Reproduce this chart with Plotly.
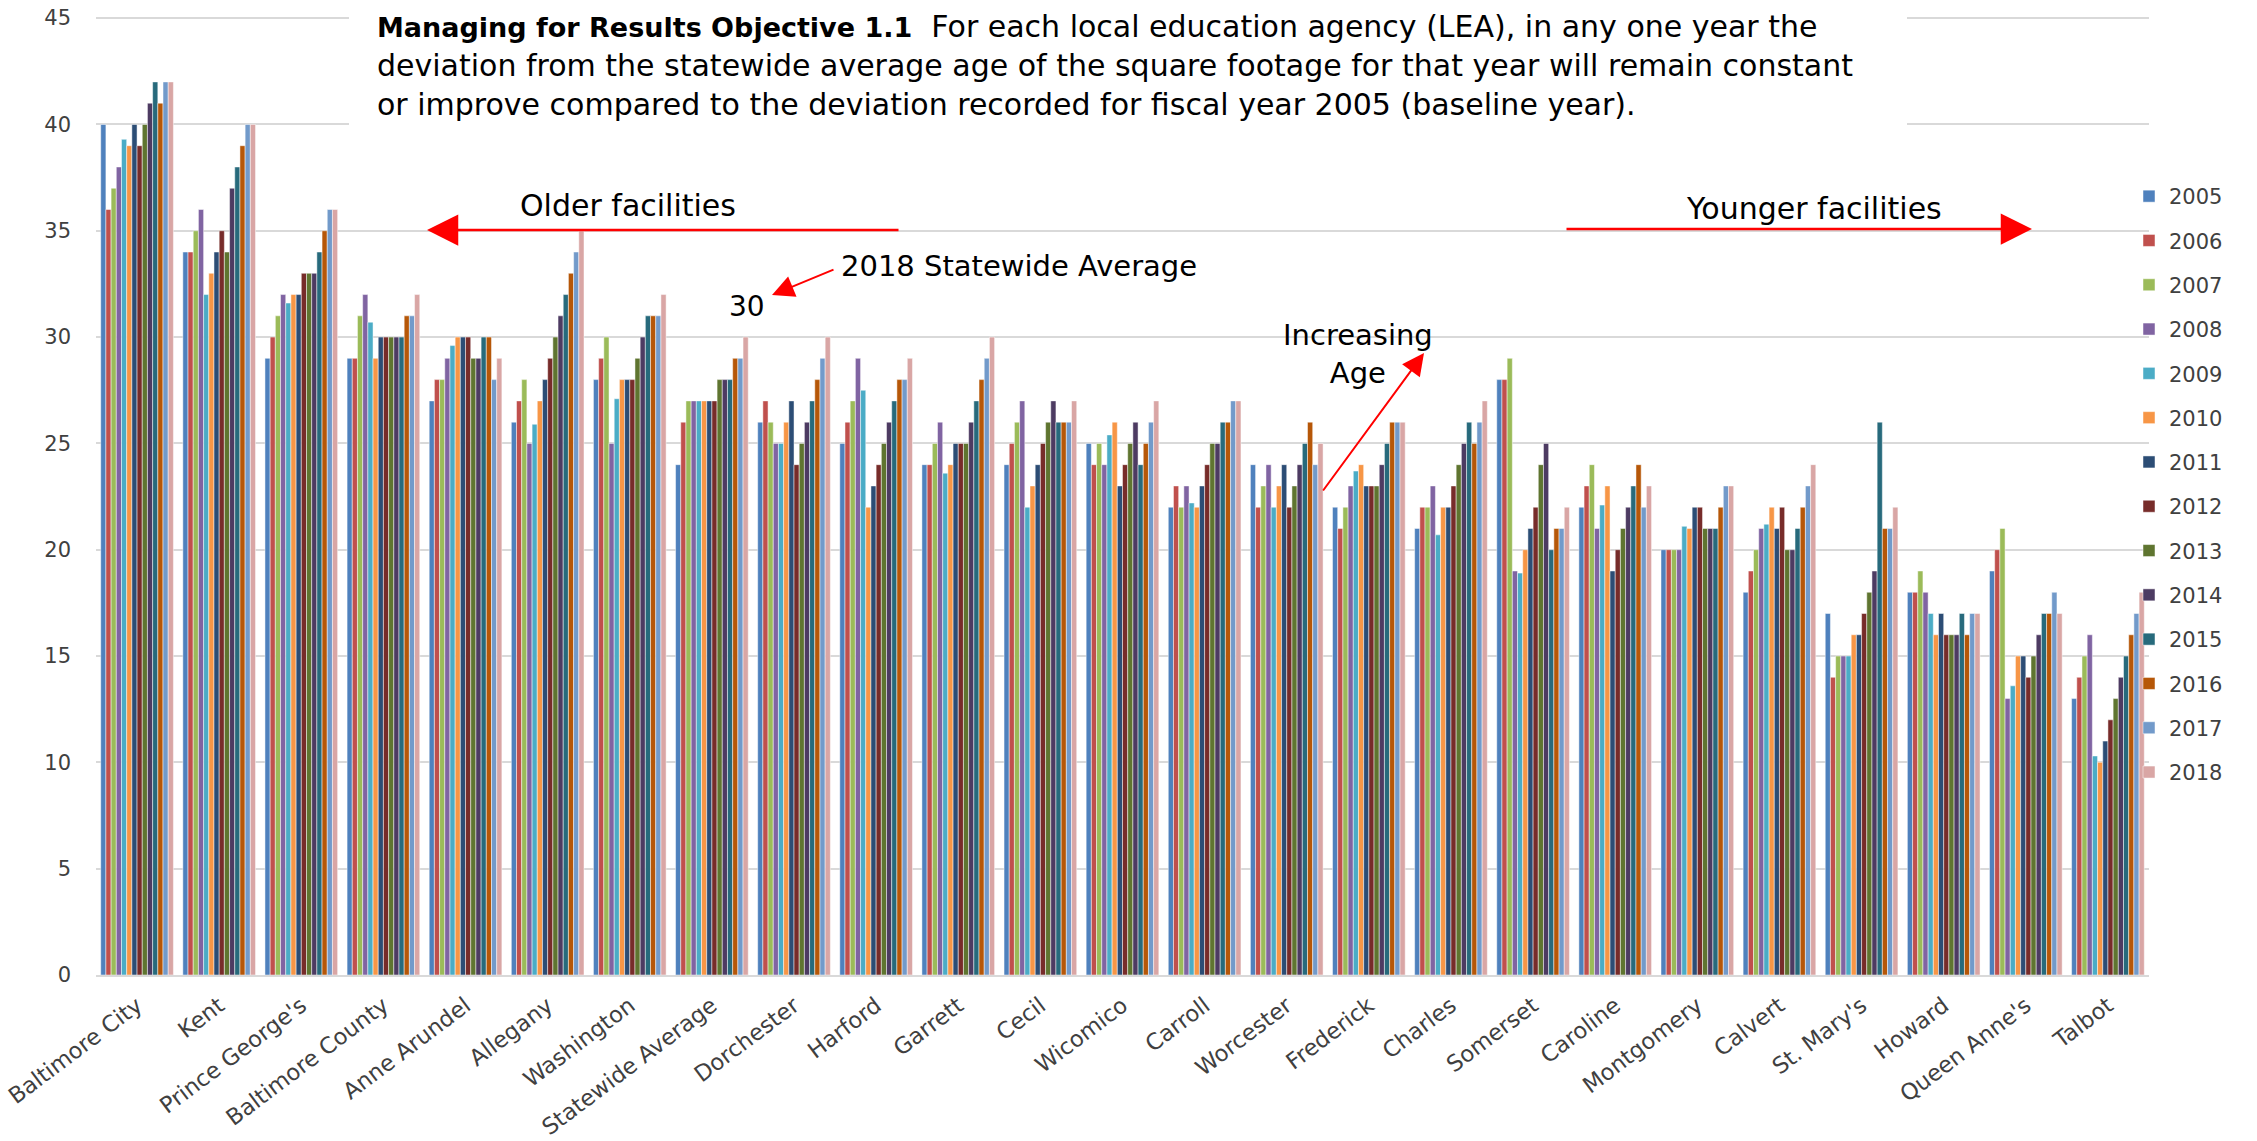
import plotly.graph_objects as go

categories = ["Baltimore City", "Kent", "Prince George's", "Baltimore County", "Anne Arundel",
              "Allegany", "Washington", "Statewide Average", "Dorchester", "Harford", "Garrett",
              "Cecil", "Wicomico", "Carroll", "Worcester", "Frederick", "Charles", "Somerset",
              "Caroline", "Montgomery", "Calvert", "St. Mary's", "Howard", "Queen Anne's", "Talbot"]

years = ["2005", "2006", "2007", "2008", "2009", "2010", "2011",
         "2012", "2013", "2014", "2015", "2016", "2017", "2018"]

v2005 = [40, 34, 29, 29, 27, 26, 28, 24, 26, 25, 24, 24, 25, 22, 24, 22, 21, 28, 22, 20, 18, 17, 18, 19, 13]
v2006 = [36, 34, 30, 29, 28, 27, 29, 26, 27, 26, 24, 25, 24, 23, 22, 21, 22, 28, 23, 20, 19, 14, 18, 20, 14]
v2007 = [37, 35, 31, 31, 28, 28, 30, 27, 26, 27, 25, 26, 25, 22, 23, 22, 22, 29, 24, 20, 20, 15, 19, 21, 15]
v2008 = [38, 36, 32, 32, 29, 25, 25, 27, 25, 29, 26, 27, 24, 23, 24, 23, 23, 19, 21, 20, 21, 15, 18, 13, 16]
v2009 = [39.3, 32, 31.6, 30.7, 29.6, 25.9, 27.1, 27, 25, 27.5, 23.6, 22, 25.4, 22.2, 22, 23.7, 20.7, 18.9, 22.1, 21.1, 21.2, 15, 17, 13.6, 10.3]
v2010 = [39, 33, 32, 29, 30, 27, 28, 27, 26, 22, 24, 23, 26, 22, 23, 24, 22, 20, 23, 21, 22, 16, 16, 15, 10]
v2011 = [40, 34, 32, 30, 30, 28, 28, 27, 27, 23, 25, 24, 23, 23, 24, 23, 22, 21, 19, 22, 21, 16, 17, 15, 11]
v2012 = [39, 35, 33, 30, 30, 29, 28, 27, 24, 24, 25, 25, 24, 24, 22, 23, 23, 22, 20, 22, 22, 17, 16, 14, 12]
v2013 = [40, 34, 33, 30, 29, 30, 29, 28, 25, 25, 25, 26, 25, 25, 23, 23, 24, 24, 21, 21, 20, 18, 16, 15, 13]
v2014 = [41, 37, 33, 30, 29, 31, 30, 28, 26, 26, 26, 27, 26, 25, 24, 24, 25, 25, 22, 21, 20, 19, 16, 16, 14]
v2015 = [42, 38, 34, 30, 30, 32, 31, 28, 27, 27, 27, 26, 24, 26, 25, 25, 26, 20, 23, 21, 21, 26, 17, 17, 15]
v2016 = [41, 39, 35, 31, 30, 33, 31, 29, 28, 28, 28, 26, 25, 26, 26, 26, 25, 21, 24, 22, 22, 21, 16, 17, 16]
v2017 = [42, 40, 36, 31, 28, 34, 31, 29, 29, 28, 29, 26, 26, 27, 24, 26, 26, 21, 22, 23, 23, 21, 17, 18, 17]
v2018 = [42, 40, 36, 32, 29, 35, 32, 30, 30, 29, 30, 27, 27, 27, 25, 26, 27, 22, 23, 23, 24, 22, 17, 17, 18]

series = [v2005, v2006, v2007, v2008, v2009, v2010, v2011,
          v2012, v2013, v2014, v2015, v2016, v2017, v2018]

colors = ["#4F81BD", "#C0504D", "#9BBB59", "#8064A2", "#4BACC6", "#F79646", "#2C4D75",
          "#772C2A", "#5F7530", "#4D3B62", "#276A7C", "#B65708", "#729ACA", "#D9A6A5"]

FONT = "DejaVu Sans"

fig = go.Figure()
for yr, vals, col in zip(years, series, colors):
    fig.add_trace(go.Bar(
        name=yr, x=categories, y=vals, legendgroup=yr,
        marker=dict(color=col, line=dict(color="rgba(255,255,255,0.8)", width=0.6)),
    ))

W, H = 2257, 1141
L, T = 96, 16
PW, PH = 2053, 959
R, B = W - L - PW, H - T - PH


def px(X):
    return (X - L) / PW


def py(Y):
    return (H - B - Y) / PH


def label(x, y, text, size):
    return dict(xref="paper", yref="paper", x=px(x), y=py(y), xanchor="center", yanchor="middle",
                showarrow=False, font=dict(family=FONT, size=size, color="black"), text=text)


def arrow(x, y, ax, ay, width, size):
    return dict(xref="paper", yref="paper", x=px(x), y=py(y), ax=ax, ay=ay, text="",
                showarrow=True, arrowhead=2, arrowsize=size, arrowwidth=width, arrowcolor="#FF0000")


annotations = [
    dict(xref="paper", yref="paper", x=px(368), y=py(0), xanchor="left", yanchor="top",
         align="left", showarrow=False, borderpad=8,
         font=dict(family=FONT, size=30, color="black"),
         text="<span style='font-size:27px'><b>Managing for Results Objective 1.1</b></span>  "
              "For each local education agency (LEA), in any one year the<br>"
              "deviation from the statewide average age of the square footage for that year will remain constant<br>"
              "or improve compared to the deviation recorded for fiscal year 2005 (baseline year)."),
    label(628, 206, "Older facilities", 30),
    label(1814, 209, "Younger facilities", 30),
    label(1019, 266, "2018 Statewide Average", 29),
    label(747, 307, "30", 28),
    label(1358, 354, "Increasing<br>Age", 29),
    arrow(427, 230, 473, 0, 2.5, 2.5),
    arrow(2032, 229, -467, 0, 2.5, 2.5),
    arrow(772, 295, 63, -26, 2, 2.2),
    arrow(1424, 353, -102, 139, 2, 2.2),
]

shapes = [
    dict(type="rect", xref="paper", yref="paper", x0=px(349), x1=px(1907), y0=py(138), y1=py(0),
         fillcolor="white", line=dict(width=0), layer="above"),
]

fig.update_layout(
    width=W, height=H,
    margin=dict(l=L, r=R, t=T, b=B, autoexpand=False),
    paper_bgcolor="white", plot_bgcolor="white",
    barmode="group", bargap=0.115, bargroupgap=0,
    font=dict(family=FONT, color="#404040"),
    legend=dict(x=px(2129), y=py(176), xanchor="left", yanchor="top",
                font=dict(family=FONT, size=21, color="#404040"),
                tracegroupgap=14, bgcolor="rgba(0,0,0,0)", itemwidth=30),
    annotations=annotations,
    shapes=shapes,
    showlegend=True,
)

fig.update_yaxes(range=[0, 45.1], dtick=5, showgrid=True, gridcolor="#D9D9D9", gridwidth=1.5,
                 zeroline=False, showline=False, ticks="", ticklabelstandoff=24,
                 ticklabeloverflow="allow",
                 tickfont=dict(family=FONT, size=21, color="#404040"))
fig.update_xaxes(showgrid=False, showline=True, linecolor="#D9D9D9", linewidth=1.5,
                 tickangle=-37, ticks="", ticklabelstandoff=7, ticklabeloverflow="allow",
                 tickfont=dict(family=FONT, size=22.5, color="#404040"))

fig.write_html("out.html", config={"displayModeBar": False},
               post_script="document.body.style.margin='0px';document.body.style.overflow='hidden';")
